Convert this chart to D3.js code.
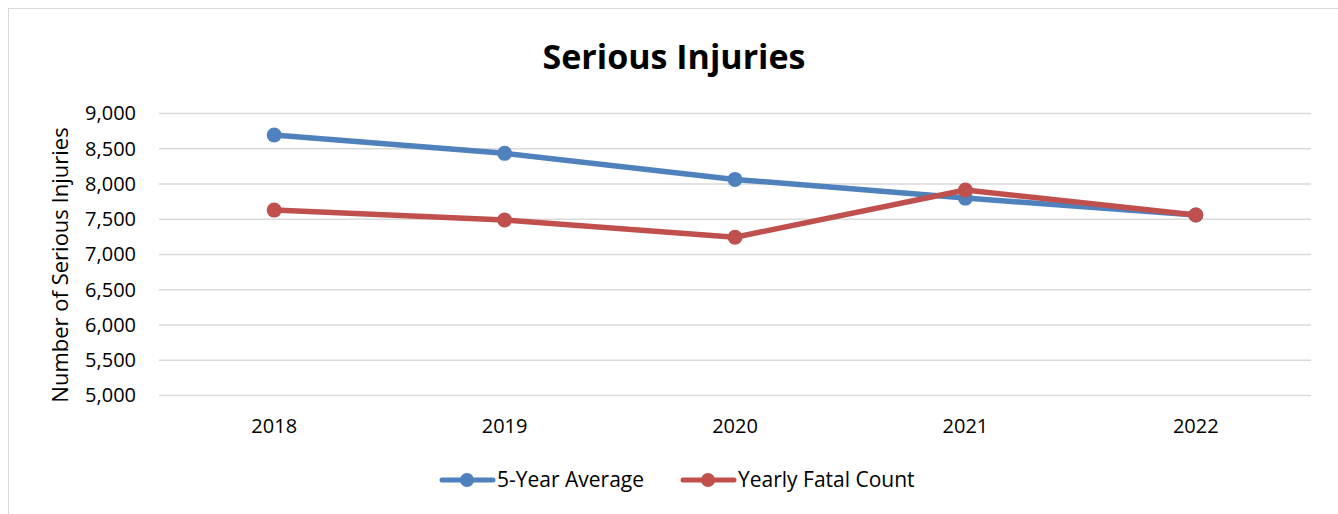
<!DOCTYPE html>
<html>
<head>
<meta charset="utf-8">
<script src="https://cdn.jsdelivr.net/npm/d3@7"></script>
<style>
  body { margin: 0; background: #fff; }
  svg { display: block; font-family: "Open Sans", "Liberation Sans", sans-serif; }
</style>
</head>
<body>
<div id="chart"></div>
<script>
const years = ["2018", "2019", "2020", "2021", "2022"];
const fiveYearAvg = [8695, 8435, 8065, 7800, 7560];
const yearlyCount = [7630, 7490, 7245, 7915, 7560];
const yTicks = [5000, 5500, 6000, 6500, 7000, 7500, 8000, 8500, 9000];

const W = 1338, H = 514;
const margin = { top: 113.5, left: 159, right: 27, bottom: 118.5 };
const width = W - margin.left - margin.right,
    height = H - margin.top - margin.bottom;

const svg = d3.select("#chart").append("svg")
    .attr("width", W).attr("height", H);

/* outer chart border */
svg.append("rect")
    .attr("x", 8.5).attr("y", 8.5)
    .attr("width", W).attr("height", H)
    .attr("fill", "none").attr("stroke", "#d9d9d9");

const g = svg.append("g")
    .attr("transform", `translate(${margin.left}, ${margin.top})`);

const x = d3.scaleBand().domain(years).range([0, width]);
const y = d3.scaleLinear().domain([5000, 9000]).range([height, 0]);

/* gridlines */
g.append("g")
    .selectAll("line")
    .data(yTicks)
    .join("line")
    .attr("x1", 0).attr("x2", width)
    .attr("y1", d => y(d)).attr("y2", d => y(d))
    .attr("stroke", "#d9d9d9").attr("stroke-width", 1.5);

/* y axis labels */
const yAxis = g.append("g")
    .call(d3.axisLeft(y).tickValues(yTicks).tickFormat(d3.format(",")).tickSize(0).tickPadding(23));
yAxis.select(".domain").remove();
yAxis.selectAll("text").attr("font-size", 20).attr("fill", "#000").attr("font-family", "Open Sans");

/* x axis labels */
const xAxis = g.append("g")
    .attr("transform", `translate(0, ${height})`)
    .call(d3.axisBottom(x).tickSize(0).tickPadding(23));
xAxis.select(".domain").remove();
xAxis.selectAll("text").attr("font-size", 20).attr("fill", "#000").attr("font-family", "Open Sans");

const series = [
    { name: "5-Year Average", values: fiveYearAvg, color: "#4f81bd" },
    { name: "Yearly Fatal Count", values: yearlyCount, color: "#c0504d" }
];

const line = d3.line()
    .x((d, i) => x(years[i]) + x.bandwidth() / 2)
    .y(d => y(d));

series.forEach(s => {
    g.append("path")
        .datum(s.values)
        .attr("d", line)
        .attr("fill", "none")
        .attr("stroke", s.color)
        .attr("stroke-width", 5.5)
        .attr("stroke-linejoin", "round");
    g.append("g")
        .selectAll("circle")
        .data(s.values)
        .join("circle")
        .attr("cx", (d, i) => x(years[i]) + x.bandwidth() / 2)
        .attr("cy", d => y(d))
        .attr("r", 7.5)
        .attr("fill", s.color);
});

/* title */
svg.append("text")
    .attr("x", 674).attr("y", 69)
    .attr("text-anchor", "middle")
    .attr("font-size", 34).attr("font-weight", "bold")
    .text("Serious Injuries");

/* y axis title */
svg.append("text")
    .attr("transform", "translate(68, 265) rotate(-90)")
    .attr("text-anchor", "middle")
    .attr("font-size", 22)
    .text("Number of Serious Injuries");

/* legend */
const legendPos = [440, 681];
series.forEach((s, i) => {
    const lg = svg.append("g").attr("transform", `translate(${legendPos[i]}, 480)`);
    lg.append("line")
        .attr("x1", 2).attr("x2", 53)
        .attr("stroke", s.color).attr("stroke-width", 5).attr("stroke-linecap", "round");
    lg.append("circle").attr("cx", 27).attr("r", 7).attr("fill", s.color);
    lg.append("text")
        .attr("x", 57).attr("y", 7)
        .attr("font-size", 21)
        .text(s.name);
});
</script>
</body>
</html>
